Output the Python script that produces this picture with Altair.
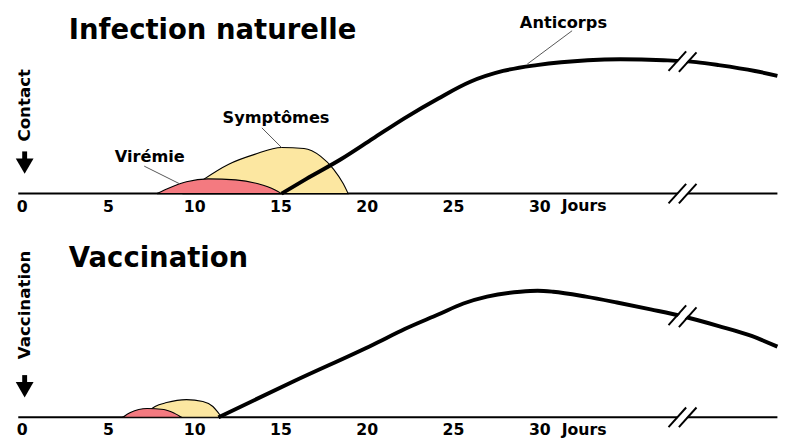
import altair as alt
import pandas as pd

FONT = "DejaVu Sans"
RED = "#F47A80"
YELLOW = "#FCE7A1"

# ---- shared axis ----
x_ticks = [0, 5, 10, 15, 20, 25, 30]
x_min, x_max = -0.795, 43.9
baseline_start, baseline_end = -0.2, 43.8
unit_label = "Jours"
unit_label_day = 31.3

# ---- panel 1 : Infection naturelle ----
inf_title = "Infection naturelle"
inf_title_pos = (2.73, 158)
inf_side = "Contact"
inf_vir_day = [7.84, 8.58, 9.55, 10.8, 12.4, 13.7, 14.66, 15.06]
inf_vir_val = [0, 6, 12, 15, 14, 10, 4, 0]
inf_sym_day = [9.4, 10.5, 12.0, 13.5, 15.06, 16.36, 17.33, 18.07, 18.64, 18.92]
inf_sym_val = [0, 14, 30, 40, 47, 46, 38, 25, 10, 0]
inf_ab_day = [15.06, 16.5, 18.5, 20.35, 22.2, 24.15, 26.0, 27.9, 29.85, 32.8, 34.7,
              37.2, 39.1, 40.4, 42.5, 43.8]
inf_ab_val = [0, 15, 35, 56, 77, 97, 114, 125, 131, 136, 137, 136, 134, 131, 125, 120]
inf_labels = ["Virémie", "Symptômes", "Anticorps"]
inf_label_day = [7.42, 14.74, 31.4]
inf_label_val = [37, 77, 174]
inf_leader_day = [7.1, 13.92, 31.9]
inf_leader_val = [28, 67, 166]
inf_leader_day2 = [9.15, 15.06, 29.3]
inf_leader_val2 = [10, 47, 132]
inf_break_day = [38.0, 38.6]
inf_break_val = [135, 134]
inf_side_val = 90

# ---- panel 2 : Vaccination ----
vac_title = "Vaccination"
vac_title_pos = (2.73, 153)
vac_side = "Vaccination"
vac_vir_day = [5.85, 6.3, 7.27, 8.24, 8.86, 9.26]
vac_vir_val = [0, 5, 9, 8, 4, 0]
vac_sym_day = [7.0, 7.73, 8.4, 9.55, 10.5, 11.08, 11.42, 11.6]
vac_sym_val = [0, 11, 15, 18, 16, 11, 4, 0]
vac_ab_day = [11.4, 15.8, 20.36, 22.2, 24.17, 25.6, 26.97, 28.9, 29.9, 30.8, 32.7, 34.5,
              36.45, 38.3, 40.4, 42.3, 43.8]
vac_ab_val = [0, 37, 74, 90, 105, 116, 123, 128, 129, 128, 123, 117, 110, 103, 93, 83, 72]
vac_break_day = [38.0, 38.6]
vac_break_val = [104, 102]
vac_side_val = 114.5

# arrow (event marker at day 0)
arrow_top, arrow_bottom, arrow_head = 43, 33, 28


def panel(title, title_pos, side, side_val, vir_d, vir_v, sym_d, sym_v, ab_d, ab_v,
          brk_d, brk_v, height,
          labels=None, lab_d=None, lab_v=None, l_d=None, l_v=None, l_d2=None, l_v2=None):
    xs = alt.Scale(domain=[x_min, x_max], nice=False, zero=False)
    ys = alt.Scale(domain=[0, height], nice=False, zero=False)
    xaxis = alt.Axis(values=x_ticks, title=None, domain=False, ticks=False, tickSize=0,
                     grid=False, labelFont=FONT, labelFontSize=16, labelFontWeight="bold",
                     labelColor="black", labelPadding=13, labelBaseline="middle",
                     labelFlush=False)
    X = alt.X("x:Q", scale=xs, axis=xaxis)
    Y = alt.Y("y:Q", scale=ys, axis=None)

    layers = []
    base = pd.DataFrame({"x": [baseline_start], "x2": [baseline_end], "y": [0]})
    layers.append(alt.Chart(base).mark_rule(color="black", strokeWidth=2)
                  .encode(x=X, x2="x2:Q", y=Y))
    sym = pd.DataFrame({"x": sym_d, "y": sym_v})
    layers.append(alt.Chart(sym).mark_area(interpolate="monotone", fill=YELLOW,
                                           stroke="black", strokeWidth=1.1)
                  .encode(x=X, y=Y))
    vir = pd.DataFrame({"x": vir_d, "y": vir_v})
    layers.append(alt.Chart(vir).mark_area(interpolate="monotone", fill=RED,
                                           stroke="black", strokeWidth=1.1)
                  .encode(x=X, y=Y))
    ab = pd.DataFrame({"x": ab_d, "y": ab_v})
    layers.append(alt.Chart(ab).mark_line(interpolate="monotone", color="black",
                                          strokeWidth=4)
                  .encode(x=X, y=Y))

    # axis breaks "//"
    cx = sum(brk_d) / len(brk_d)
    cy = sum(brk_v) / len(brk_v)
    gap = pd.DataFrame({"x": [cx - 0.5, cx - 0.5], "x2": [cx + 0.5, cx + 0.5],
                        "y": [cy - 10, -10], "y2": [cy + 10, 10]})
    layers.append(alt.Chart(gap).mark_rule(color="white", strokeWidth=7)
                  .encode(x=X, x2="x2:Q", y=Y, y2="y2:Q"))
    sl_x = [d - 0.51 for d in brk_d] * 2
    sl_x2 = [d + 0.51 for d in brk_d] * 2
    sl_y = [v - 10 for v in brk_v] + [-10, -10]
    sl_y2 = [v + 10 for v in brk_v] + [10, 10]
    slashes = pd.DataFrame({"x": sl_x, "x2": sl_x2, "y": sl_y, "y2": sl_y2})
    layers.append(alt.Chart(slashes).mark_rule(color="black", strokeWidth=2)
                  .encode(x=X, x2="x2:Q", y=Y, y2="y2:Q"))

    if labels:
        lead = pd.DataFrame({"x": l_d, "x2": l_d2, "y": l_v, "y2": l_v2})
        layers.append(alt.Chart(lead).mark_rule(color="#555555", strokeWidth=1)
                      .encode(x=X, x2="x2:Q", y=Y, y2="y2:Q"))
        lab = pd.DataFrame({"x": lab_d, "y": lab_v, "t": labels})
        layers.append(alt.Chart(lab).mark_text(font=FONT, fontSize=16.5, fontWeight="bold",
                                               color="black", align="center",
                                               baseline="middle")
                      .encode(x=X, y=Y, text="t:N"))

    ttl = pd.DataFrame({"x": [title_pos[0]], "y": [title_pos[1]], "t": [title]})
    layers.append(alt.Chart(ttl).mark_text(font=FONT, fontSize=28, fontWeight="bold",
                                           color="black", align="left",
                                           baseline="alphabetic")
                  .encode(x=X, y=Y, text="t:N"))

    unit = pd.DataFrame({"x": [unit_label_day], "y": [-13], "t": [unit_label]})
    layers.append(alt.Chart(unit).mark_text(font=FONT, fontSize=16, fontWeight="bold",
                                            color="black", align="left", baseline="middle")
                  .encode(x=X, y=Y, text="t:N"))

    sd = pd.DataFrame({"x": [0], "y": [side_val], "t": [side]})
    layers.append(alt.Chart(sd).mark_text(font=FONT, fontSize=17, fontWeight="bold",
                                          color="black", align="center", baseline="middle",
                                          angle=270, xOffset=3)
                  .encode(x=X, y=Y, text="t:N"))
    shaft = pd.DataFrame({"x": [0], "y": [arrow_top], "y2": [arrow_bottom]})
    layers.append(alt.Chart(shaft).mark_rule(color="black", strokeWidth=5, xOffset=3)
                  .encode(x=X, y=Y, y2="y2:Q"))
    head = pd.DataFrame({"x": [0], "y": [arrow_head]})
    layers.append(alt.Chart(head).mark_point(shape="triangle-down", filled=True, size=330,
                                             color="black", opacity=1, xOffset=3)
                  .encode(x=X, y=Y))

    return alt.layer(*layers).properties(width=786, height=height)


p1 = panel(inf_title, inf_title_pos, inf_side, inf_side_val, inf_vir_day, inf_vir_val,
           inf_sym_day, inf_sym_val, inf_ab_day, inf_ab_val, inf_break_day, inf_break_val,
           150, inf_labels, inf_label_day, inf_label_val, inf_leader_day, inf_leader_val,
           inf_leader_day2, inf_leader_val2)
p2 = panel(vac_title, vac_title_pos, vac_side, vac_side_val, vac_vir_day, vac_vir_val,
           vac_sym_day, vac_sym_val, vac_ab_day, vac_ab_val, vac_break_day, vac_break_val,
           148)

chart = alt.vconcat(p1, p2, spacing=32).properties(
    padding={"top": 3, "left": 0, "right": 0, "bottom": 0}
).configure_view(stroke=None)

chart.save("out.html", embed_options={"renderer": "svg", "actions": False})
